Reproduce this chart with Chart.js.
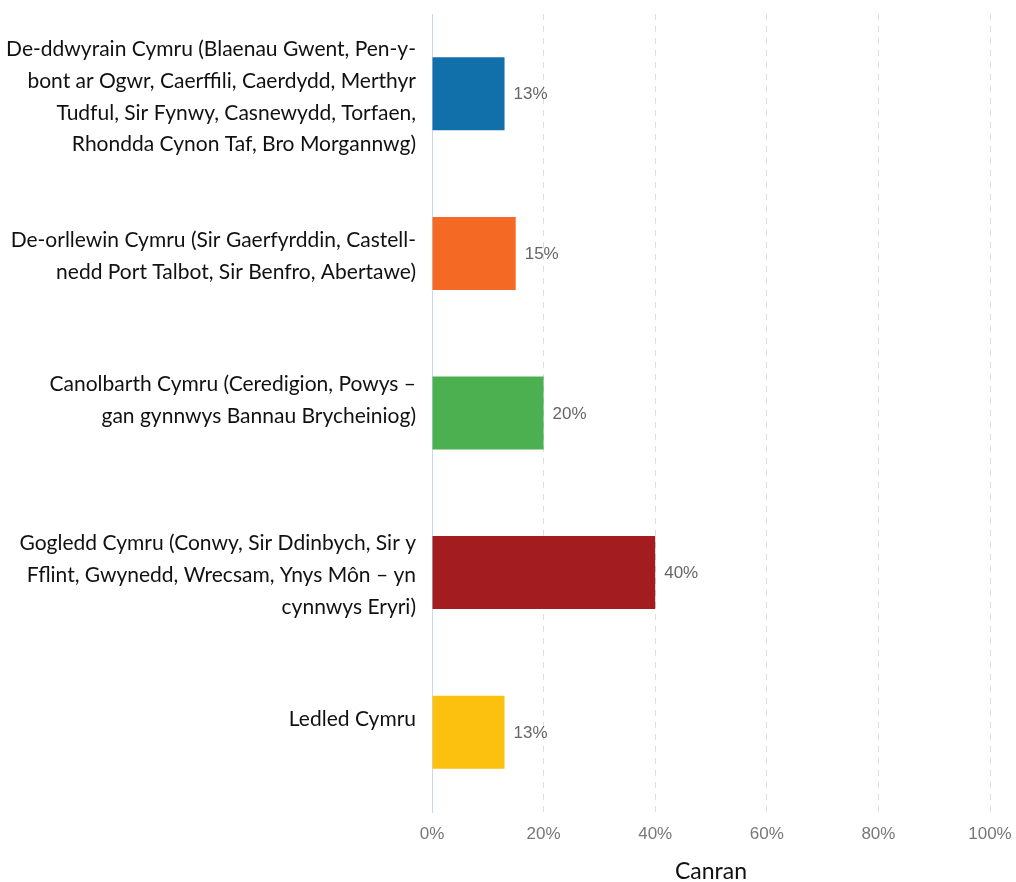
<!DOCTYPE html>
<html>
<head>
<meta charset="utf-8">
<script src="https://cdn.jsdelivr.net/npm/chart.js@4.4.0/dist/chart.umd.min.js"></script>
<style>
  html, body { margin: 0; padding: 0; background: #fff; }
  #wrap { width: 1016px; height: 882px; }
</style>
</head>
<body>
<div id="wrap"><canvas id="regionChart"></canvas></div>
<script>
// category labels, already broken into lines like in the source (empty line = nudge up)
var regionLabels = [
    ["De-ddwyrain Cymru (Blaenau Gwent, Pen-y-", "bont ar Ogwr, Caerffili, Caerdydd, Merthyr", "Tudful, Sir Fynwy, Casnewydd, Torfaen,", "Rhondda Cynon Taf, Bro Morgannwg)"],
    ["De-orllewin Cymru (Sir Gaerfyrddin, Castell-", "nedd Port Talbot, Sir Benfro, Abertawe)"],
    ["Canolbarth Cymru (Ceredigion, Powys \u2013", "gan gynnwys Bannau Brycheiniog)", ""],
    ["Gogledd Cymru (Conwy, Sir Ddinbych, Sir y", "Fflint, Gwynedd, Wrecsam, Ynys M\u00f4n \u2013 yn", "cynnwys Eryri)"],
    ["Ledled Cymru", ""]
];
var percentValues = [13, 15, 20, 40, 13];
var barColors = ["#1170aa", "#f46a25", "#4caf50", "#a31c1f", "#fcc10f"];
var xTicks = [0, 20, 40, 60, 80, 100];
var axisTitle = "Canran";

var valueLabelPlugin = {
    id: 'valueLabels',
    afterDatasetsDraw: function (chart) {
        var ctx = chart.ctx;
        var meta = chart.getDatasetMeta(0);
        ctx.save();
        ctx.font = '17px "Liberation Sans", Arial, sans-serif';
        ctx.fillStyle = '#666666';
        ctx.textBaseline = 'middle';
        ctx.textAlign = 'left';
        meta.data.forEach(function (bar, i) {
            ctx.fillText(percentValues[i] + '%', bar.x + 9, bar.y + 1);
        });
        ctx.restore();
    }
};

var ctx = document.getElementById('regionChart').getContext('2d');
var regionChart = new Chart(ctx, {
    type: 'bar',
    data: {
        labels: regionLabels,
        datasets: [{
            data: percentValues,
            backgroundColor: barColors,
            borderWidth: 0,
            barPercentage: 0.915,
            categoryPercentage: 0.5
        }]
    },
    options: {
        indexAxis: 'y',
        responsive: true,
        maintainAspectRatio: false,
        animation: false,
        layout: { padding: { top: 14, right: 26, left: 0, bottom: 0 } },
        plugins: {
            legend: { display: false },
            tooltip: { enabled: false }
        },
        scales: {
            x: {
                min: 0,
                max: 100,
                afterBuildTicks: function (axis) {
                    axis.ticks = xTicks.map(function (v) { return { value: v }; });
                },
                afterFit: function (axis) {
                    axis.height = 70;
                    axis.paddingRight = 0;
                    axis.paddingLeft = 0;
                },
                grid: {
                    color: '#dedede',
                    drawTicks: false,
                    tickLength: 0
                },
                border: { display: false, dash: [6, 6] },
                ticks: {
                    color: '#777777',
                    padding: 12,
                    font: { family: '"Liberation Sans", Arial, sans-serif', size: 17 },
                    callback: function (v) { return v + '%'; }
                },
                title: {
                    display: true,
                    text: axisTitle,
                    color: '#111111',
                    font: { family: 'Lato, sans-serif', size: 23, lineHeight: 1 },
                    padding: { top: 4, bottom: -1 }
                }
            },
            y: {
                grid: { display: false, drawTicks: false },
                border: { display: true, color: '#c8d6f2', width: 1 },
                afterFit: function (axis) {
                    axis.width = 432;
                    axis.paddingTop = 0;
                    axis.paddingBottom = 0;
                },
                ticks: {
                    color: '#111111',
                    padding: 16,
                    labelOffset: 3,
                    font: { family: 'Lato, sans-serif', size: 21, lineHeight: 1.52 }
                }
            }
        }
    },
    plugins: [valueLabelPlugin]
});
</script>
</body>
</html>
